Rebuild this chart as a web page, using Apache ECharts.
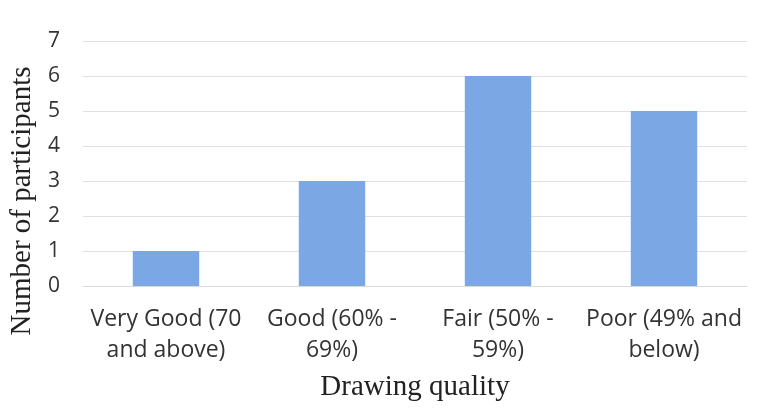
<!DOCTYPE html>
<html>
<head>
<meta charset="utf-8">
<script src="https://cdn.jsdelivr.net/npm/echarts@6/dist/echarts.min.js"></script>
<style>html,body{margin:0;padding:0;background:#fff;}#c{width:766px;height:408px;}</style>
</head>
<body>
<div id="c"></div>
<script>
var categories = ["Very Good (70\nand above)", "Good (60% -\n69%)", "Fair (50% -\n59%)", "Poor (49% and\nbelow)"];
var participants = [1, 3, 6, 5];
var yTicks = [0, 1, 2, 3, 4, 5, 6, 7];

var chart = echarts.init(document.getElementById('c'));
chart.setOption({
  animation: false,
  backgroundColor: '#ffffff',
  grid: { left: 83, right: 19, top: 41, bottom: 122 },
  xAxis: {
    type: 'category',
    data: categories,
    name: 'Drawing quality',
    nameLocation: 'middle',
    nameGap: 87,
    nameTextStyle: { fontFamily: 'Liberation Serif', fontSize: 29, color: '#222' },
    axisLine: { show: true, lineStyle: { color: '#d9d9d9', width: 1 } },
    axisTick: { show: false },
    axisLabel: { interval: 0, margin: 18, fontFamily: 'Open Sans', fontSize: 23, lineHeight: 31, color: '#333' }
  },
  yAxis: {
    type: 'value',
    min: yTicks[0],
    max: yTicks[yTicks.length - 1],
    interval: 1,
    name: 'Number of participants',
    nameLocation: 'middle',
    nameGap: 42,
    nameTextStyle: { fontFamily: 'Liberation Serif', fontSize: 29, color: '#222', padding: [0, 75, 0, 0] },
    axisLine: { show: false },
    axisTick: { show: false },
    axisLabel: { margin: 23, fontFamily: 'Open Sans', fontSize: 21, color: '#333' },
    splitLine: { lineStyle: { color: '#e0e0e0', width: 1 } }
  },
  series: [{
    type: 'bar',
    data: participants,
    barWidth: '40%',
    itemStyle: { color: '#7ba7e4' }
  }]
});
</script>
</body>
</html>
